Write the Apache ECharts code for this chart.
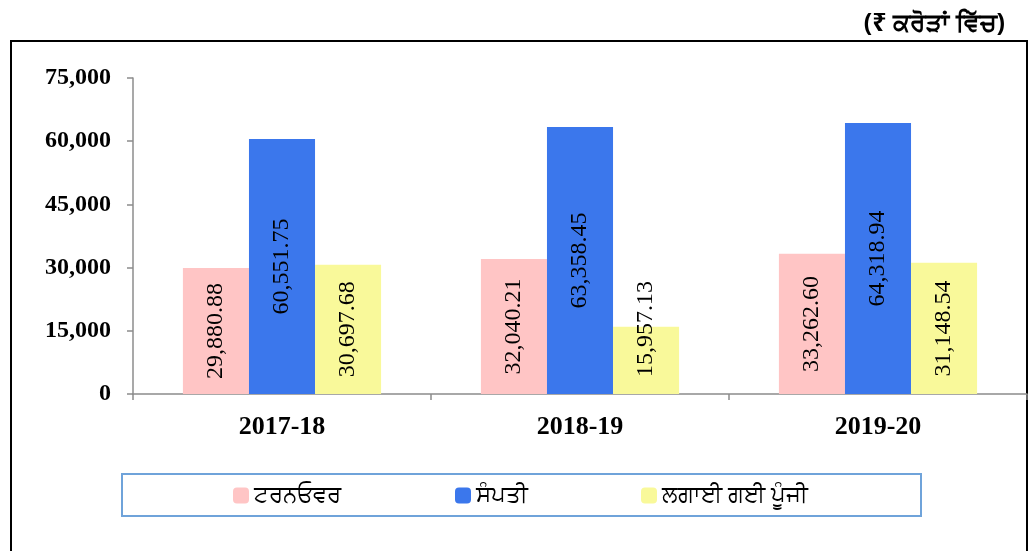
<!DOCTYPE html>
<html lang="pa">
<head>
    <meta charset="UTF-8">
    <title>ਟਰਨਓਵਰ, ਸੰਪਤੀ, ਲਗਾਈ ਗਈ ਪੂੰਜੀ</title>
    <script src="https://cdn.jsdelivr.net/npm/echarts@6/dist/echarts.min.js"></script>
    <style>
        html, body {
            margin: 0;
            padding: 0;
            width: 100%;
            height: 100%;
            background: #fff;
        }
        #chart {
            width: 1029px;
            height: 551px;
        }
    </style>
</head>
<body>
<div id="chart"></div>
<script>
    // data
    var years = ['2017-18', '2018-19', '2019-20'];
    var seriesNames = ['ਟਰਨਓਵਰ', 'ਸੰਪਤੀ', 'ਲਗਾਈ ਗਈ ਪੂੰਜੀ'];
    var turnover = [29880.88, 32040.21, 33262.60];
    var assets = [60551.75, 63358.45, 64318.94];
    var capital = [30697.68, 15957.13, 31148.54];
    var yTicks = [0, 15000, 30000, 45000, 60000, 75000];
    var unitText = '(₹ ਕਰੋੜਾਂ ਵਿੱਚ)';

    var colors = ['#FFC5C5', '#3B77EC', '#F9F99A'];
    var serif = '"Liberation Serif", "Times New Roman", serif';
    var sans = '"Noto Sans", "DejaVu Sans", sans-serif';

    function fmt(v) {
        return v.toLocaleString('en-US', {minimumFractionDigits: 2, maximumFractionDigits: 2});
    }

    var barLabel = {
        show: true,
        position: 'inside',
        rotate: 90,
        color: '#000',
        fontFamily: serif,
        fontSize: 24,
        formatter: function (p) { return fmt(p.value); }
    };

    // short bar: label sits from the bottom like the others and runs past the top
    function withLabels(values) {
        return values.map(function (v) {
            if (v < 20000) {
                return {
                    value: v,
                    label: {position: 'insideBottom', distance: 17, align: 'left', verticalAlign: 'middle'}
                };
            }
            return v;
        });
    }

    var chart = echarts.init(document.getElementById('chart'));

    var legends = [233, 455, 641].map(function (x, i) {
        return {
            data: [seriesNames[i]],
            left: x,
            top: 484,
            itemWidth: 16,
            itemHeight: 16,
            itemGap: 8,
            padding: 0,
            textStyle: {fontFamily: sans, fontSize: 23, color: '#000'},
            selectedMode: false
        };
    });

    var option = {
        animation: false,
        color: colors,
        grid: {left: 133, right: 2, top: 78, bottom: 157, containLabel: false},
        legend: legends,
        xAxis: {
            type: 'category',
            data: years,
            axisLine: {lineStyle: {color: '#8c8c8c', width: 1.5}},
            axisTick: {show: true, length: 6, lineStyle: {color: '#8c8c8c', width: 1.5}},
            axisLabel: {
                margin: 20,
                color: '#000',
                fontFamily: serif,
                fontWeight: 'bold',
                fontSize: 26
            }
        },
        yAxis: {
            type: 'value',
            min: 0,
            max: 75000,
            interval: 15000,
            splitLine: {show: false},
            axisLine: {show: true, lineStyle: {color: '#8c8c8c', width: 1.5}},
            axisTick: {show: true, length: 6, lineStyle: {color: '#8c8c8c', width: 1.5}},
            axisLabel: {
                margin: 22,
                color: '#000',
                fontFamily: serif,
                fontWeight: 'bold',
                fontSize: 24,
                formatter: function (v) {
                    return yTicks.indexOf(v) >= 0 ? v.toLocaleString('en-US') : '';
                }
            }
        },
        series: [
            {name: seriesNames[0], type: 'bar', data: withLabels(turnover), barGap: '0%', barCategoryGap: '33.5%', label: barLabel},
            {name: seriesNames[1], type: 'bar', data: withLabels(assets), barGap: '0%', barCategoryGap: '33.5%', label: barLabel},
            {name: seriesNames[2], type: 'bar', data: withLabels(capital), barGap: '0%', barCategoryGap: '33.5%', label: barLabel}
        ],
        graphic: [
            {
                type: 'rect',
                shape: {x: 11, y: 41, width: 1016, height: 530},
                style: {fill: 'none', stroke: '#000', lineWidth: 2},
                silent: true
            },
            {
                type: 'rect',
                shape: {x: 122, y: 474, width: 799, height: 42},
                style: {fill: 'none', stroke: '#6FA3DA', lineWidth: 2},
                silent: true
            },
            {
                type: 'text',
                right: 24,
                top: 11,
                style: {
                    text: unitText,
                    fontFamily: sans,
                    fontWeight: 'bold',
                    fontSize: 25,
                    fill: '#000'
                }
            }
        ]
    };

    chart.setOption(option);
</script>
</body>
</html>
